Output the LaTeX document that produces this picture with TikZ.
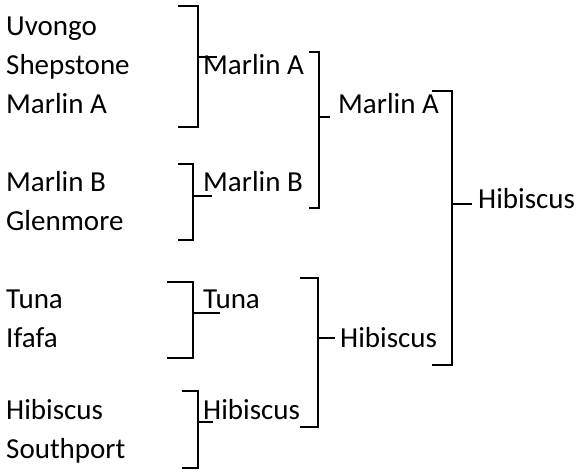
\documentclass[tikz,border=0pt]{standalone}
\usepackage{fontspec}
\setmainfont{Carlito}

\begin{document}
\begin{tikzpicture}[x=1pt,y=-1pt,
  team/.style={anchor=base west, inner sep=0pt, font=\fontsize{29}{35}\selectfont},
  bracket/.style={line width=1.5pt},
  stub/.style={line width=2.2pt}]
\useasboundingbox (0,0) rectangle (587,474);

% first round
\node (u) at (6,35) [team]{Uvongo};
\node (s) at (6,74) [team]{Shepstone};
\node (ma) at (6,113) [team]{Marlin A};
\node (mb) at (6,191) [team]{Marlin B};
\node (g) at (6,230) [team]{Glenmore};
\node (t) at (6,308) [team]{Tuna};
\node (i) at (6,347) [team]{Ifafa};
\node (h) at (6,419) [team]{Hibiscus};
\node (sp) at (6,458) [team]{Southport};

% second round
\node (r1-ma) at (203,74) [team]{Marlin A};
\node (r1-mb) at (203,191) [team]{Marlin B};
\node (r1-t) at (203,308) [team]{Tuna};
\node (r1-h) at (203,419) [team]{Hibiscus};

% semi final and final
\node (r2-ma) at (338,113) [team]{Marlin A};
\node (r2-h) at (340,347) [team]{Hibiscus};
\node (win) at (478,208) [team]{Hibiscus};

\draw [bracket] (178,6) -- (198,6) -- (198,127) -- (178,127);
\draw [stub] (198,57) -- (217,57);

\draw [bracket] (178,164) -- (193,164) -- (193,240) -- (178,240);
\draw [stub] (193,196) -- (212,196);

\draw [bracket] (167,282) -- (193,282) -- (193,358) -- (167,358);
\draw [stub] (193,313) -- (220,313);

\draw [bracket] (182,391) -- (198,391) -- (198,468) -- (182,468);
\draw [stub] (198,422) -- (213,422);

\draw [bracket] (309,52) -- (319,52) -- (319,208) -- (309,208);
\draw [stub] (319,117) -- (330,117);

\draw [bracket] (300,278) -- (318,278) -- (318,427) -- (300,427);
\draw [stub] (318,338) -- (335,338);

\draw [bracket] (432,91) -- (452,91) -- (452,365) -- (432,365);
\draw [stub] (452,204) -- (472,204);

\end{tikzpicture}
\end{document}
